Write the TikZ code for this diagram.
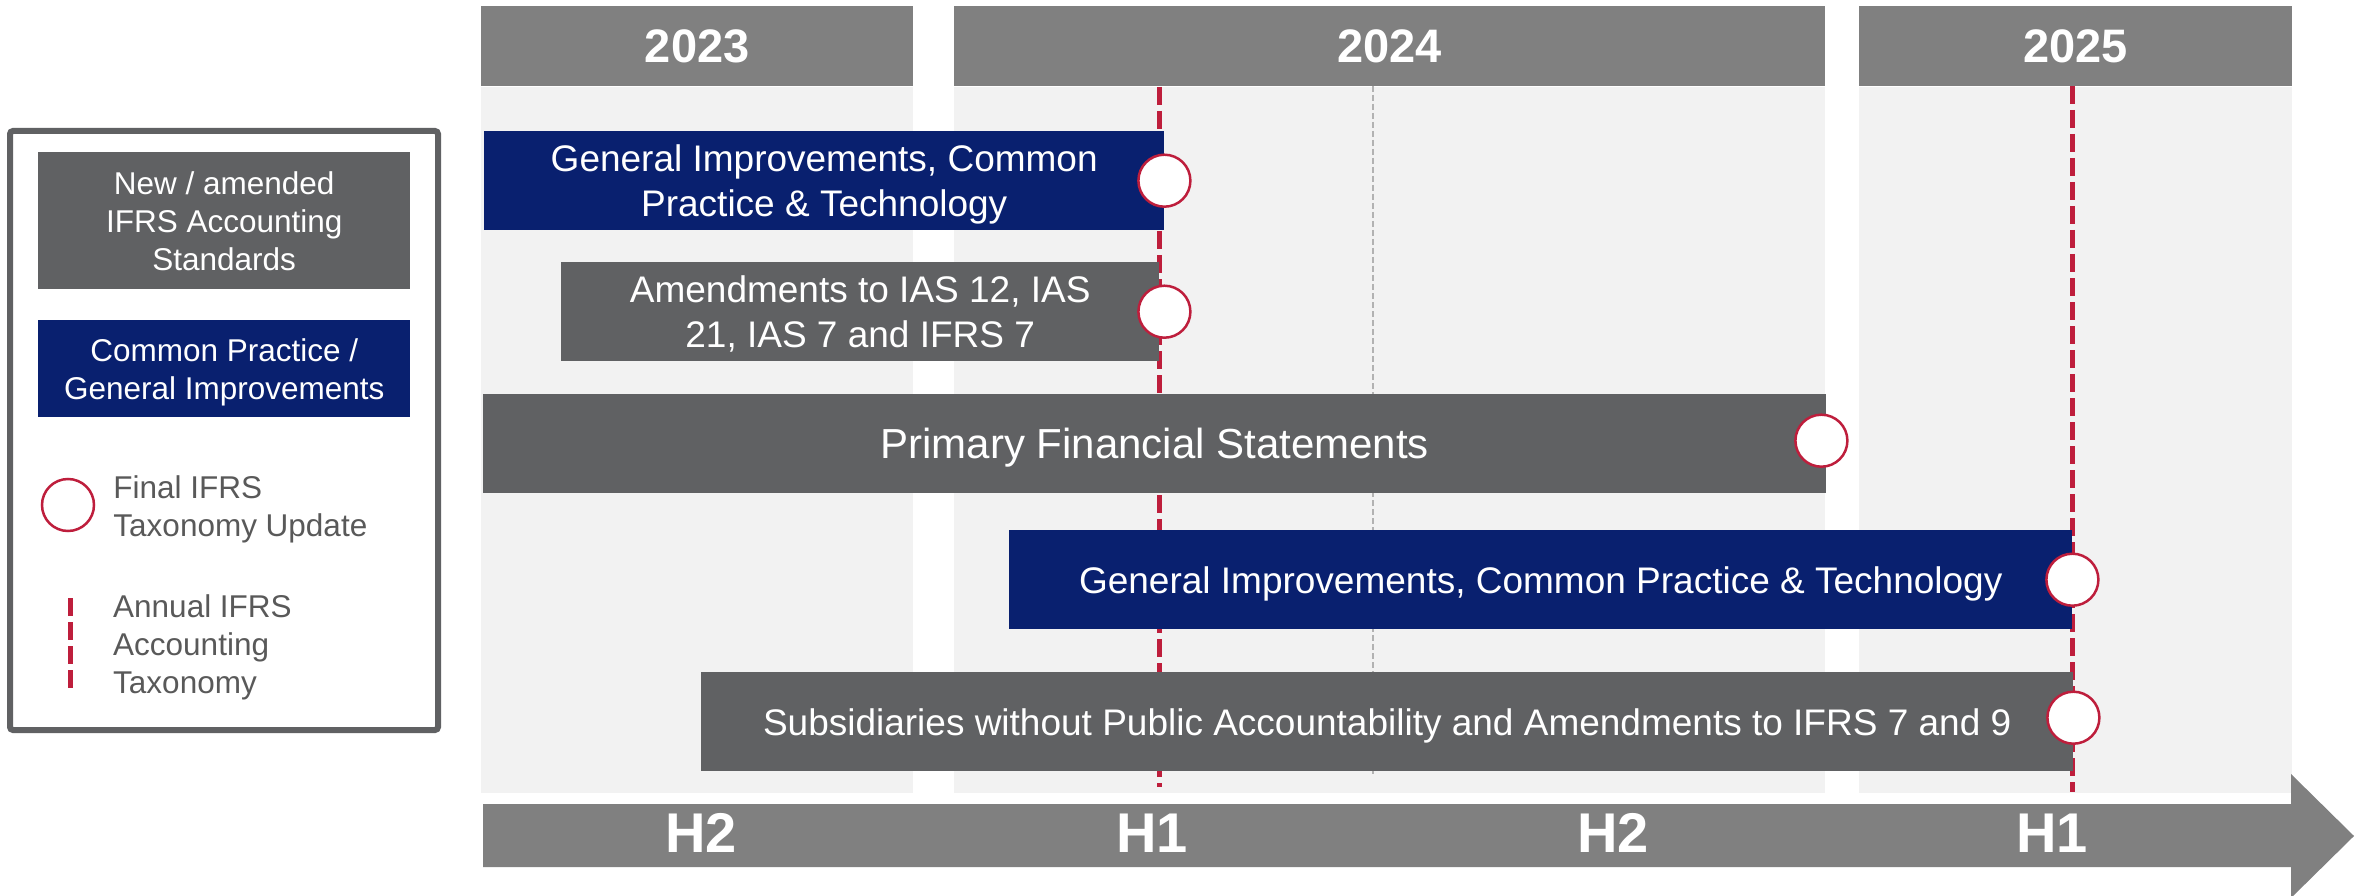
\documentclass[tikz,border=0pt]{standalone}
\usepackage{fontspec}
\setmainfont{Liberation Sans}
\usepackage{tikz}
\usetikzlibrary{positioning}

\definecolor{hdrgray}{RGB}{128,128,128}
\definecolor{panelgray}{RGB}{242,242,242}
\definecolor{stdgray}{RGB}{96,97,99}
\definecolor{cpblue}{RGB}{9,32,111}
\definecolor{ifrsred}{RGB}{190,30,60}
\definecolor{legendgray}{RGB}{89,89,89}

\begin{document}
\begin{tikzpicture}[x=1pt, y=-1pt,
    panel/.style={fill=panelgray},
    yearbox/.style={fill=hdrgray, text=white, inner sep=0pt, anchor=north west,
        minimum height=80pt, font=\fontsize{47}{56}\selectfont\bfseries},
    task/.style={inner sep=0pt, anchor=north west, minimum height=99pt, text=white,
        align=center, text depth=0pt, font=\fontsize{37}{45}\selectfont},
    stdtask/.style={task, fill=stdgray},
    cptask/.style={task, fill=cpblue},
    update/.style={circle, draw=ifrsred, line width=2.5pt, fill=white,
        minimum size=52pt, inner sep=0pt},
    annual/.style={draw=ifrsred, line width=5pt, dash pattern=on 18pt off 6pt},
    half/.style={text=white, font=\fontsize{56}{60}\selectfont\bfseries},
    legtext/.style={text=legendgray, align=left, inner sep=0pt,
        font=\fontsize{31.5}{38}\selectfont}
]
    \useasboundingbox (0,0) rectangle (2362,896);

    % Background panels for each year
    \fill[panel] (481,87) rectangle (913,793);
    \fill[panel] (954,87) rectangle (1825,793);
    \fill[panel] (1859,87) rectangle (2292,793);

    % Year headers
    \node[yearbox, minimum width=432pt] (y23) at (481,6) {2023};
    \node[yearbox, minimum width=871pt] (y24) at (954,6) {2024};
    \node[yearbox, minimum width=433pt] (y25) at (1859,6) {2025};

    % Middle of 2024
    \draw[gray!60, line width=1.5pt, dash pattern=on 6pt off 3pt] (1373,86) -- (1373,774);

    % Annual taxonomy releases
    \draw[annual] (1159,87) -- (1159,787);
    \draw[annual] (2072,86) -- (2072,792);

    % Projects
    \node[cptask, minimum width=680pt] (gic24) at (484,131)
        {General Improvements, Common\\Practice \& Technology};
    \node[stdtask, minimum width=598pt] (ias) at (561,262)
        {Amendments to IAS 12, IAS\\21, IAS 7 and IFRS 7};
    \node[stdtask, minimum width=1343pt, font=\fontsize{42}{50}\selectfont] (pfs) at (483,394)
        {Primary Financial Statements};
    \node[cptask, minimum width=1063pt] (gic25) at (1009,530)
        {General Improvements, Common Practice \& Technology};
    \node[stdtask, minimum width=1372pt] (sme) at (701,672)
        {Subsidiaries without Public Accountability and Amendments to IFRS 7 and 9};

    % Final taxonomy updates
    \node[update] (upd1) at (gic24.east) {};
    \node[update] (upd2) at ([xshift=5pt]ias.east) {};
    \node[update] (upd3) at ([shift={(-5pt,3pt)}]pfs.east) {};
    \node[update] (upd4) at (gic25.east) {};
    \node[update] (upd5) at ([yshift=4pt]sme.east) {};

    % Time axis
    \fill[hdrgray] (483,804) -- (2291,804) -- (2291,774) -- (2354,836)
        -- (2291,898) -- (2291,867) -- (483,867) -- cycle;
    \node[half] (h23b) at (701,833) {H2};
    \node[half] (h24a) at (1152,833) {H1};
    \node[half] (h24b) at (1613,833) {H2};
    \node[half] (h25a) at (2052,833) {H1};

    % Legend
    \draw[stdgray, line width=6pt, rounded corners=3pt] (10,131) rectangle (438,730);
    \node[stdtask, minimum width=372pt, minimum height=137pt,
        font=\fontsize{31.5}{38}\selectfont] (keystd) at (38,152)
        {New / amended\\IFRS Accounting\\Standards};
    \node[cptask, minimum width=372pt, minimum height=97pt,
        font=\fontsize{31.5}{38}\selectfont] (keycp) at (38,320)
        {Common Practice /\\General Improvements};
    \node[update] (keyupd) at (68,505) {};
    \node[legtext, right=18pt of keyupd, yshift=-4pt] (keyupdtext)
        {Final IFRS\\Taxonomy Update};
    \draw[annual] (70,598) -- (70,688);
    \coordinate (keyann) at (70,643);
    \node[legtext, right=43pt of keyann, yshift=-4pt] (keyanntext)
        {Annual IFRS\\Accounting\\Taxonomy};

\end{tikzpicture}
\end{document}
